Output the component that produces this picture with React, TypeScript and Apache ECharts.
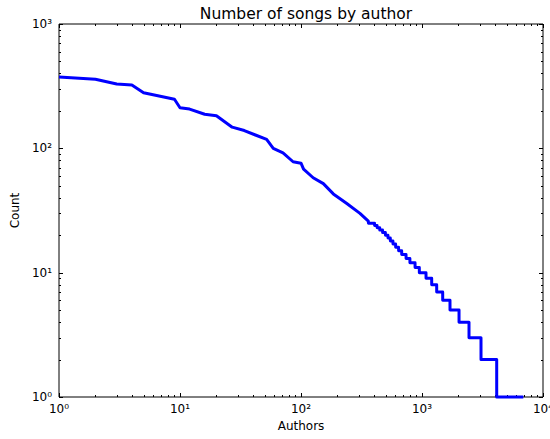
import React, { useEffect, useRef } from "react";
import * as echarts from "echarts";

// Upper part of the rank/count curve: author rank and number of songs.
const headRanks = [1, 2, 3, 4, 5, 9, 10, 12, 16, 20, 27, 34, 42, 52, 59, 71, 86, 100, 105, 126, 153, 185, 239, 307, 360];
const headCounts = [375, 359, 329, 323, 280, 248, 212, 207, 188, 183, 148, 139, 128, 118, 100, 92, 78, 76, 68, 58, 52, 43, 36, 30, 26];

// Long tail: integer song counts and the last author rank holding each count.
const tailCounts = [25, 24, 23, 22, 21, 20, 19, 18, 17, 16, 15, 14, 13, 12, 11, 10, 9, 8, 7, 6, 5, 4, 3, 2, 1];
const tailLastRanks = [405, 425, 447, 472, 498, 523, 547, 575, 605, 640, 679, 738, 794, 876, 950, 1079, 1202, 1322, 1482, 1703, 2023, 2446, 3073, 4143, 6877];

const xRange = [1, 10000];
const yRange = [1, 1000];

const FONT = "DejaVu Sans";
const SUP: Record<string, string> = { "0": "⁰", "1": "¹", "2": "²", "3": "³", "4": "⁴" };
const powLabel = (v: number) => "10" + SUP[String(Math.round(Math.log10(v)))];

function buildSeries(): [number, number][] {
  const pts: [number, number][] = headRanks.map((r, i) => [r, headCounts[i]]);
  let prev = headRanks[headRanks.length - 1];
  tailCounts.forEach((c, i) => {
    pts.push([prev + 1, c]);
    pts.push([tailLastRanks[i], c]);
    prev = tailLastRanks[i];
  });
  return pts;
}

function tickValues(lo: number, hi: number) {
  const out: { v: number; major: boolean }[] = [];
  for (let d = Math.log10(lo); d < Math.log10(hi); d++) {
    for (let m = 1; m <= 9; m++) out.push({ v: m * Math.pow(10, d), major: m === 1 });
  }
  out.push({ v: hi, major: true });
  return out;
}

export default function App() {
  const ref = useRef<HTMLDivElement>(null);

  useEffect(() => {
    if (!ref.current) return;
    const chart = echarts.init(ref.current, null, { renderer: "svg" });
    const axisLabel = {
      formatter: powLabel,
      color: "#000",
      fontSize: 12,
      fontFamily: FONT,
      showMinLabel: true,
      showMaxLabel: true,
      hideOverlap: false,
    };
    chart.setOption({
      animation: false,
      title: {
        text: "Number of songs by author",
        left: 301,
        top: 1,
        textAlign: "center",
        textStyle: { fontFamily: FONT, fontSize: 15.5, fontWeight: "normal", color: "#000" },
      },
      grid: {
        left: 59,
        right: 7,
        top: 24,
        bottom: 42,
        containLabel: false,
        outerBoundsMode: "none",
        show: true,
        borderColor: "#000",
        borderWidth: 1,
        backgroundColor: "transparent",
      },
      xAxis: {
        type: "log",
        logBase: 10,
        min: xRange[0],
        max: xRange[1],
        axisLine: { show: false },
        axisTick: { show: false },
        splitLine: { show: false },
        axisLabel: { ...axisLabel, margin: 6 },
        name: "Authors",
        nameLocation: "middle",
        nameGap: 22,
        nameTextStyle: { fontFamily: FONT, fontSize: 12, color: "#000" },
      },
      yAxis: {
        type: "log",
        logBase: 10,
        min: yRange[0],
        max: yRange[1],
        axisLine: { show: false },
        axisTick: { show: false },
        splitLine: { show: false },
        axisLabel: { ...axisLabel, margin: 7 },
        name: "Count",
        nameLocation: "middle",
        nameGap: 33,
        nameTextStyle: { fontFamily: FONT, fontSize: 12, color: "#000" },
      },
      series: [
        {
          type: "line",
          data: buildSeries(),
          showSymbol: false,
          symbol: "none",
          clip: false,
          lineStyle: { color: "#0000ff", width: 3, join: "round" },
        },
      ],
    });

    // Inside tick marks on all four sides of the frame (major and minor).
    const px = (v: number) => chart.convertToPixel({ xAxisIndex: 0 }, v) as number;
    const py = (v: number) => chart.convertToPixel({ yAxisIndex: 0 }, v) as number;
    const x0 = px(xRange[0]);
    const x1 = px(xRange[1]);
    const y0 = py(yRange[0]);
    const y1 = py(yRange[1]);
    const stroke = { stroke: "#000", lineWidth: 1 };
    const els: any[] = [];
    tickValues(xRange[0], xRange[1]).forEach(({ v, major }) => {
      const x = Math.round(px(v)) + 0.5;
      const len = major ? 4 : 2;
      els.push({ type: "line", silent: true, shape: { x1: x, y1: y0, x2: x, y2: y0 - len }, style: stroke });
      els.push({ type: "line", silent: true, shape: { x1: x, y1: y1, x2: x, y2: y1 + len }, style: stroke });
    });
    tickValues(yRange[0], yRange[1]).forEach(({ v, major }) => {
      const y = Math.round(py(v)) + 0.5;
      const len = major ? 4 : 2;
      els.push({ type: "line", silent: true, shape: { x1: x0, y1: y, x2: x0 + len, y2: y }, style: stroke });
      els.push({ type: "line", silent: true, shape: { x1: x1, y1: y, x2: x1 - len, y2: y }, style: stroke });
    });
    chart.setOption({ graphic: { elements: els } });

    return () => chart.dispose();
  }, []);

  return (
    <div
      ref={ref}
      style={{ position: "fixed", left: 0, top: 0, width: 550, height: 439, background: "#fff" }}
    />
  );
}
